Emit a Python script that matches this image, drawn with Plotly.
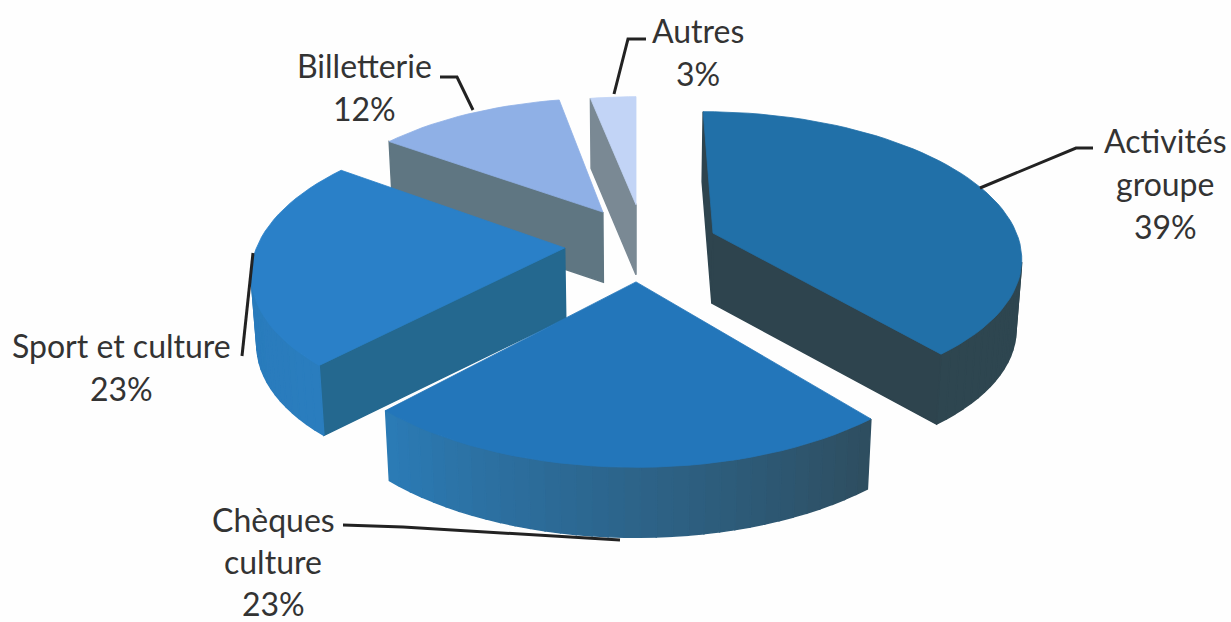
import math
import plotly.graph_objects as go

# ---- data ----
categories = ["Activités groupe", "Chèques culture", "Sport et culture", "Billetterie", "Autres"]
values = [39, 23, 23, 12, 3]
label_lines = [["Activités", "groupe"], ["Chèques", "culture"], ["Sport et culture"], ["Billetterie"], ["Autres"]]

# ---- view of the tilted pie ----
CX, CY, RX, RY, PERSP = 636, 245, 312, 145, 0.151
DEPTH, SHRINK = 70, 0.985
PULL_X = [0.25, 0.0, -0.228, -0.11, 0.0]
PULL_Y = [0.083, -0.245, -0.02, 0.235, 0.29]
RADIUS = [0.985, 1.0, 0.985, 0.96, 0.92]
TOP = ["#2170A8", "#2376BA", "#2A80C8", "#8FB0E6", "#C2D4F6"]
RADIAL = ["#2E444E", "#2A6A94", "#24688F", "#5F7682", "#7A8994"]
ARC_A = ["#2E4650", "#2E4E60", "#2A7DBE", "#5F7682", "#7A8994"]
ARC_B = ["#2E4650", "#2B7CB8", "#2878B8", "#5F7682", "#7A8994"]
DRAW_ORDER = [4, 3, 0, 2, 1]
LABEL_POS = [(1165, 140, 43), (273, 519, 42), (121, 345, 43), (364, 65, 43), (698, 30, 43)]
LEADERS = [
    [(1093, 148), (1076, 148), (980, 188)],
    [(343, 525), (403, 527), (620, 540)],
    [(242, 356), (253, 253)],
    [(440, 77), (457, 77), (473, 110)],
    [(646, 39), (628, 39), (614, 94)],
]
TEXT = "#333333"
FONT = "Lato"
FS = 32


def project(x, y, lower=False):
    w = 1 + PERSP * y
    u = CX + RX * x / w
    v = CY - RY * y / w
    if lower:
        u = CX + (u - CX) * SHRINK
        v += DEPTH
    return u, v


def mix(a, b, t):
    ca = [int(a[i:i + 2], 16) for i in (1, 3, 5)]
    cb = [int(b[i:i + 2], 16) for i in (1, 3, 5)]
    return "#%02x%02x%02x" % tuple(round(p + (q - p) * t) for p, q in zip(ca, cb))


def poly(pts, color, w=0.8):
    return go.Scatter(
        x=[p[0] for p in pts] + [pts[0][0]],
        y=[p[1] for p in pts] + [pts[0][1]],
        mode="lines", fill="toself", fillcolor=color,
        line=dict(color=color, width=w), hoverinfo="skip", showlegend=False,
    )


fig = go.Figure()
total = sum(values)
starts = [sum(values[:i]) for i in range(len(values))]
for i in DRAW_ORDER:
    a0 = starts[i] / total * 2 * math.pi
    a1 = (starts[i] + values[i]) / total * 2 * math.pi
    px, py, r = PULL_X[i], PULL_Y[i], RADIUS[i]
    n = max(6, int(values[i] * 1.5))
    rim = [(px + r * math.sin(a0 + (a1 - a0) * k / n), py + r * math.cos(a0 + (a1 - a0) * k / n)) for k in range(n + 1)]
    apex = (px, py)
    perimeter = [apex] + rim + [apex]
    for k in range(len(perimeter) - 1):
        a, b = perimeter[k], perimeter[k + 1]
        ua, va = project(*a)
        ub, vb = project(*b)
        if ub >= ua:
            continue
        if k == 0 or k == len(perimeter) - 2:
            color = RADIAL[i]
        else:
            color = mix(ARC_A[i], ARC_B[i], (k - 1) / n)
        fig.add_trace(poly([(ua, va), (ub, vb), project(*b, lower=True), project(*a, lower=True)], color, 1.5))
    fig.add_trace(poly([project(*p) for p in perimeter[:-1]], TOP[i]))

for pts in LEADERS:
    fig.add_trace(go.Scatter(x=[p[0] for p in pts], y=[p[1] for p in pts], mode="lines",
                             line=dict(color="#222222", width=3), hoverinfo="skip", showlegend=False))

for i, lines in enumerate(label_lines):
    x, y, step = LABEL_POS[i]
    for j, t in enumerate(lines + [f"{values[i]}%"]):
        fig.add_annotation(x=x, y=y + j * step, text=t, showarrow=False, xanchor="center", yanchor="middle",
                           font=dict(family=FONT, size=FS, color=TEXT))

fig.update_layout(
    width=1231, height=622, margin=dict(l=0, r=0, t=0, b=0),
    paper_bgcolor="#FEFEFE", plot_bgcolor="#FEFEFE", showlegend=False,
    xaxis=dict(range=[0, 1231], visible=False, fixedrange=True),
    yaxis=dict(range=[622, 0], visible=False, fixedrange=True),
)
fig.write_html("out.html", config={"displayModeBar": False},
               post_script="document.body.style.margin='0';document.body.style.overflow='hidden';")
